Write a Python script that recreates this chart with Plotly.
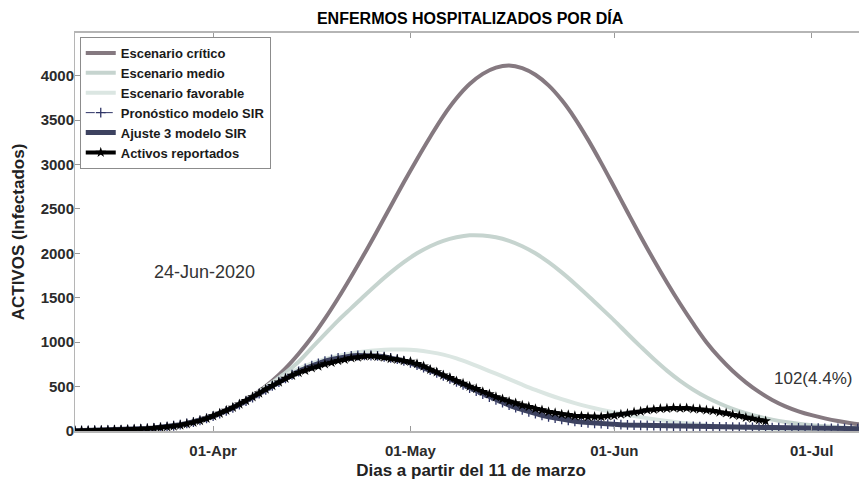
import pandas as pd
import plotly.graph_objects as go

# fecha de inicio: 11 de marzo de 2020 (dia 0)
inicio = pd.Timestamp("2020-03-11")

# escenarios (cada 2 dias)
dias_esc = list(range(0, 122, 2))
critico = [3, 5, 8, 12, 17, 24, 34, 48, 70, 108, 152, 207, 272, 352, 448, 565,
           705, 870, 1055, 1265, 1495, 1740, 1995, 2260, 2530, 2800, 3060, 3310,
           3545, 3745, 3905, 4020, 4090, 4115, 4085, 4010, 3890, 3725, 3520, 3280,
           3018, 2743, 2465, 2190, 1925, 1672, 1432, 1208, 1000, 825, 675, 548,
           440, 350, 278, 222, 178, 142, 112, 88, 68]
medio = [3, 5, 8, 12, 17, 24, 34, 48, 70, 105, 148, 203, 268, 350, 440, 548,
         655, 780, 935, 1090, 1243, 1383, 1523, 1658, 1785, 1900, 2000, 2080,
         2140, 2180, 2203, 2200, 2180, 2140, 2080, 2000, 1900, 1785, 1658, 1523,
         1383, 1243, 1095, 950, 810, 680, 565, 465, 380, 310, 250, 200, 160, 128,
         102, 82, 66, 53, 42, 34, 27]
favorable = [3, 5, 8, 12, 17, 24, 34, 48, 70, 104, 146, 200, 265, 345, 440, 540,
             625, 700, 760, 808, 846, 874, 895, 909, 917, 918, 908, 888, 860, 818,
             765, 705, 645, 585, 522, 462, 408, 358, 314, 275, 240, 209, 181, 156,
             133, 112, 94, 78, 64, 52, 42, 34, 27, 22, 17, 13, 10, 8, 6, 5, 4]

# modelo SIR (diario)
dias_sir = list(range(0, 122))
sir = [3, 4, 5, 6, 7, 9, 11, 13, 16, 19, 23, 28, 34, 41, 49, 59, 71, 85, 101,
       120, 142, 167, 195, 226, 260, 297, 336, 377, 420, 464, 508, 551, 593,
       633, 670, 704, 735, 762, 786, 806, 822, 835, 844, 850, 852, 850, 845,
       836, 824, 808, 789, 767, 742, 715, 686, 655, 622, 588, 554, 519, 484,
       449, 415, 382, 350, 320, 291, 264, 239, 216, 195, 176, 159, 144, 131,
       119, 109, 100, 93, 87, 82, 78, 74, 71, 68, 66, 64, 62, 60, 58, 57, 55,
       54, 52, 51, 50, 48, 47, 46, 45, 44, 43, 42, 41, 40, 39, 38, 37, 36, 35,
       34, 33, 32, 31, 30, 30, 29, 28, 27, 27, 26, 25]

# activos reportados (diario, hasta el 24-Jun)
dias_rep = list(range(0, 106))
reportados = [3, 4, 5, 6, 8, 10, 12, 14, 17, 20, 24, 28, 33, 39, 46, 55, 66,
              80, 96, 116, 140, 168, 198, 232, 265, 302, 340, 384, 425, 470,
              510, 550, 592, 624, 656, 680, 710, 728, 754, 770, 792, 804, 822,
              830, 842, 846, 836, 830, 814, 806, 790, 782, 756, 730, 692, 664,
              628, 600, 562, 536, 502, 476, 442, 416, 384, 360, 332, 314, 290,
              274, 250, 236, 216, 204, 188, 182, 170, 168, 160, 162, 160, 170,
              174, 188, 196, 212, 220, 236, 242, 252, 254, 260, 256, 258, 248,
              246, 234, 228, 212, 202, 184, 172, 152, 142, 124, 112]


def fechas(dias):
    return inicio + pd.to_timedelta(dias, unit="D")


fig = go.Figure()

fig.add_trace(go.Scatter(
    x=fechas(dias_esc), y=critico, mode="lines", name="Escenario crítico",
    line=dict(color="#857980", width=4, shape="spline"),
))
fig.add_trace(go.Scatter(
    x=fechas(dias_esc), y=medio, mode="lines", name="Escenario medio",
    line=dict(color="#c6d4cf", width=4, shape="spline"),
))
fig.add_trace(go.Scatter(
    x=fechas(dias_esc), y=favorable, mode="lines", name="Escenario favorable",
    line=dict(color="#dbe6e2", width=4, shape="spline"),
))
fig.add_trace(go.Scatter(
    x=fechas(dias_sir), y=sir, mode="lines+markers", name="Pronóstico modelo SIR",
    line=dict(color="#2e3466", width=1, dash="dash"),
    marker=dict(symbol="cross-thin", size=7, line=dict(width=1.3, color="#2e3466")),
))
fig.add_trace(go.Scatter(
    x=fechas(dias_sir), y=sir, mode="lines", name="Ajuste 3 modelo SIR",
    line=dict(color="#3d4260", width=5),
))
fig.add_trace(go.Scatter(
    x=fechas(dias_rep), y=reportados, mode="lines+markers", name="Activos reportados",
    line=dict(color="black", width=4),
    marker=dict(symbol="star", size=8, color="black"),
))

fig.add_annotation(x=0.164, y=0.40, xref="paper", yref="paper",
                   xanchor="center", yanchor="middle",
                   text="24-Jun-2020", showarrow=False,
                   font=dict(size=18, color="#333333"))
fig.add_annotation(x=0.932, y=0.133, xref="paper", yref="paper",
                   xanchor="center", yanchor="middle",
                   text="102(4.4%)", showarrow=False,
                   font=dict(size=17, color="#333333"))

fig.update_xaxes(
    range=["2020-03-11", "2020-07-09 10:00"],
    tickvals=["2020-04-01", "2020-05-01", "2020-06-01", "2020-07-01"],
    tickformat="%d-%b",
    ticks="inside", ticklen=5, tickcolor="#999999",
    ticklabelstandoff=5,
    showline=True, linecolor="#b5b5b5", linewidth=1.5, mirror="ticks",
    showgrid=False, zeroline=False, automargin=False,
    tickfont=dict(size=15, color="#2b2b2b", weight="bold"),
    title=dict(text="Dias a partir del 11 de marzo", standoff=6,
               font=dict(size=17, color="#222222", weight="bold")),
)
fig.update_yaxes(
    range=[0, 4480],
    tickvals=[0, 500, 1000, 1500, 2000, 2500, 3000, 3500, 4000],
    ticks="inside", ticklen=5, tickcolor="#999999",
    ticklabelstandoff=-3,
    showline=True, linecolor="#b5b5b5", linewidth=1, mirror="ticks",
    showgrid=False, zeroline=False, automargin=False,
    tickfont=dict(size=15, color="#2b2b2b", weight="bold"),
    title=dict(text="ACTIVOS (Infectados)", standoff=11,
               font=dict(size=17, color="#222222", weight="bold")),
)

fig.update_layout(
    width=859, height=475,
    margin=dict(l=67, r=0, t=25, b=52),
    plot_bgcolor="white", paper_bgcolor="white",
    font=dict(family="Liberation Sans, Arial, sans-serif"),
    title=dict(text="ENFERMOS HOSPITALIZADOS POR DÍA", x=0.538, xanchor="center",
               y=0.979, yanchor="middle",
               font=dict(size=16, color="black", weight="bold")),
    legend=dict(x=0.006, y=0.99, xanchor="left", yanchor="top",
                bgcolor="white", bordercolor="#8c8c8c", borderwidth=1,
                font=dict(size=13, color="#1a1a1a", weight="bold"),
                itemwidth=30, tracegroupgap=0),
    showlegend=True,
)

fig.write_html("out.html")
